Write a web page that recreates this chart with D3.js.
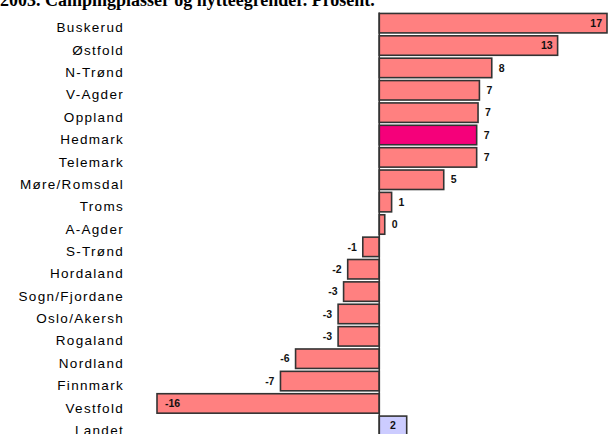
<!DOCTYPE html>
<html>
<head>
<meta charset="utf-8">
<script src="https://cdn.jsdelivr.net/npm/d3@7"></script>
<style>
  html, body { margin: 0; padding: 0; background: #fff; }
  svg { display: block; }
</style>
</head>
<body>
<svg id="chart" width="610" height="434"></svg>
<script>
// Change in overnight stays, 2003, by county (percent)
const counties = ["Buskerud", "Østfold", "N-Trønd", "V-Agder", "Oppland", "Hedmark", "Telemark",
  "Møre/Romsdal", "Troms", "A-Agder", "S-Trønd", "Hordaland", "Sogn/Fjordane", "Oslo/Akersh",
  "Rogaland", "Nordland", "Finnmark", "Vestfold", "Landet"];
const change = [16.6, 13.0, 8.2, 7.3, 7.2, 7.1, 7.1, 4.7, 0.9, 0.4, -1.2, -2.3, -2.6, -3.0,
  -3.0, -6.1, -7.2, -16.2, 2.0];
const highlighted = "Hedmark";
const total = "Landet";
const titleText = "2003. Campingplasser og hytteegrender. Prosent.";

const data = counties.map((c, i) => ({ name: c, value: change[i] }));

const svg = d3.select("#chart");

const x = d3.scaleLinear().domain([-16.2, 16.6]).range([157, 607]);
const y = d3.scaleBand().domain(counties).range([12, 437]).paddingInner(0.13).paddingOuter(0.065);
const fmt = d3.formatLocale({ decimal: ".", thousands: " ", grouping: [3], currency: ["", ""], minus: "-" }).format(".0f");

// Title (sits partly above the top edge)
svg.append("text")
  .attr("x", 0).attr("y", 6)
  .attr("font-family", "'Liberation Serif', 'Times New Roman', serif")
  .attr("font-weight", "bold")
  .attr("font-size", 18)
  .attr("fill", "#000")
  .text(titleText);

// Category labels
const yAxis = d3.axisLeft(y).tickSize(0).tickPadding(0);
const gy = svg.append("g").attr("transform", "translate(124,4.8)").call(yAxis);
gy.select(".domain").remove();
gy.selectAll("text")
  .attr("font-family", "'Liberation Sans', Arial, sans-serif")
  .attr("font-size", 13.5)
  .attr("letter-spacing", 1.3)
  .attr("fill", "#000");

// Bars
svg.append("g").selectAll("rect")
  .data(data)
  .join("rect")
  .attr("x", d => x(Math.min(0, d.value)))
  .attr("y", d => y(d.name))
  .attr("width", d => Math.abs(x(d.value) - x(0)))
  .attr("height", y.bandwidth())
  .attr("fill", d => d.name === total ? "#ccccff" : d.name === highlighted ? "#f5007a" : "#ff8080")
  .attr("stroke", "#333")
  .attr("stroke-width", 1.6);

// Zero line
svg.append("line")
  .attr("x1", x(0)).attr("x2", x(0))
  .attr("y1", y(counties[0]) - 1).attr("y2", 434)
  .attr("stroke", "#333")
  .attr("stroke-width", 1.6);

// Value labels
const inside = d => d.name === total || Math.abs(x(d.value) - x(0)) > 150;
svg.append("g").selectAll("text")
  .data(data)
  .join("text")
  .attr("font-family", "'Liberation Sans', Arial, sans-serif")
  .attr("font-size", 10.5)
  .attr("font-weight", "bold")
  .attr("fill", "#111")
  .attr("dy", "0.35em")
  .attr("y", d => y(d.name) + y.bandwidth() / 2)
  .attr("x", d => {
    if (d.name === total) return (x(0) + x(d.value)) / 2;
    if (inside(d)) return d.value >= 0 ? x(d.value) - 5 : x(d.value) + 8;
    return d.value >= 0 ? x(d.value) + 7 : x(d.value) - 6;
  })
  .attr("text-anchor", d => {
    if (d.name === total) return "middle";
    if (inside(d)) return d.value >= 0 ? "end" : "start";
    return d.value >= 0 ? "start" : "end";
  })
  .text(d => fmt(d.value));
</script>
</body>
</html>
